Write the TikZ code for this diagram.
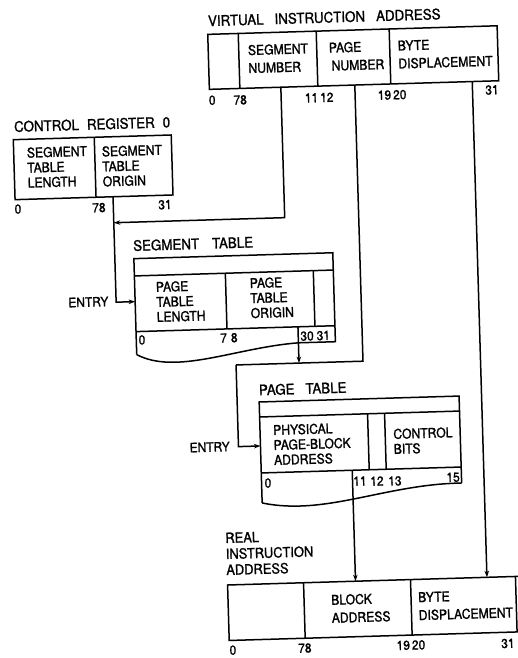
\documentclass[tikz,border=0pt]{standalone}
\usepackage{fontspec}
\setmainfont{TeX Gyre Heros}
\newfontfamily\ttlfont[FakeStretch=0.92,FakeBold=1.2]{TeX Gyre Heros}
\newfontfamily\cellfont[FakeStretch=0.9,FakeBold=1.4]{TeX Gyre Heros}
\usetikzlibrary{arrows.meta}
\begin{document}
\begin{tikzpicture}[x=1pt,y=-1pt,
  ln/.style={line width=1.5pt},
  arr/.style={line width=1.5pt,-{Stealth[length=6.5pt,width=4.5pt]}},
  ttl/.style={font=\ttlfont\fontsize{14.5}{16}\selectfont, inner sep=0pt, anchor=west},
  cell/.style={font=\cellfont\fontsize{13.5}{15}\selectfont, inner sep=0pt, align=left, anchor=west},
  cellw/.style={font=\cellfont\fontsize{13.5}{18}\selectfont, inner sep=0pt, align=left, anchor=west},
  bit/.style={font=\ttlfont\fontsize{13}{14}\selectfont, inner sep=0pt},
]
\useasboundingbox (0,0) rectangle (517,658);
\fill[white] (0,0) rectangle (517,658);
\begin{scope}[rotate around={1.7:(258,329)}, transform shape]
% ---------- virtual instruction address
\node[ttl] (tva) at (217,19.5) {VIRTUAL\hspace{11pt}INSTRUCTION\hspace{11pt}ADDRESS};
\draw[ln] (216.5,33) rectangle (506,88);
\draw[ln] (247,33) -- (247,88) (325,33) -- (325,88) (398,33) -- (398,88);
\node[cellw] (vsn) at (256,59) {SEGMENT\\NUMBER};
\node[cellw] (vpn) at (337,59) {PAGE\\\,NUMBER};
\node[cellw] (vbd) at (406,59) {BYTE\\DISPLACEMENT};
\node[bit] (vb0) at (219,99) {0};
\node[bit] (vb7) at (247,99.5) {78};
\node[bit] (vb11) at (326,99.5) {11\kern2pt12};
\node[bit] (vb19) at (399,99) {19\kern2pt20};
\node[bit] (vb31) at (499,97) {31};
% ---------- control register 0
\node[ttl] (tcr) at (20,119.5) {CONTROL\hspace{8pt}REGISTER\hspace{8pt}0};
\draw[ln] (19,132.5) rectangle (177,192.5);
\draw[ln] (100,132.5) -- (100,192.5);
\node[cell] (cstl) at (32,161) {SEGMENT\\TABLE\\LENGTH};
\node[cell] (csto) at (107,162) {SEGMENT\\TABLE\\ORIGIN};
\node[bit] (cb0) at (21.6,202) {0};
\node[bit] (cb7) at (102.6,203) {78};
\node[bit] (cb31) at (168.7,202) {31};
% ---------- segment table
\node[ttl] (tst) at (135.5,242) {SEGMENT\hspace{13pt}TABLE};
\draw[ln] (136,351) -- (136,255) -- (335,255) -- (335,344) -- (298,344);
\draw[ln] (136,351) .. controls (175,373) and (235,347) .. (298,344);
\draw[ln] (136,272.3) -- (335,272.3) (136,328) -- (335,328);
\draw[ln] (227,272.3) -- (227,328) (315,272.3) -- (315,328);
\node[cell] (sptl) at (157,299) {PAGE\\TABLE\\LENGTH};
\node[cell] (spto) at (251,298) {PAGE\\TABLE\\ORIGIN};
\node[bit] (sb0) at (141.7,336.5) {0};
\node[bit] (sb7) at (228.7,337) {7\kern4pt8};
\node[bit] (sb30) at (315,337.5) {30\kern3pt31};
\node[ttl, font=\ttlfont\fontsize{13}{14}\selectfont] (ent1) at (69,297) {ENTRY};
% ---------- page table
\node[ttl] (tpt) at (257,390) {PAGE\hspace{11pt}TABLE};
\draw[ln] (257,503) -- (257,402) -- (457,402) -- (457,489);
\draw[ln] (257,503) .. controls (320,518) and (380,488) .. (457,489);
\draw[ln] (257,417) -- (457,417) (257,473) -- (457,473);
\draw[ln] (365,417) -- (365,473) (382,417) -- (382,473);
\node[cell] (ppba) at (270,445.5) {PHYSICAL\\PAGE-BLOCK\\ADDRESS};
\node[cell] (pcb) at (390,445.5) {CONTROL\\BITS};
\node[bit] (pb0) at (263.4,483.3) {0};
\node[bit] (pb11) at (355.4,484) {11};
\node[bit] (pb12) at (372.4,484.6) {12};
\node[bit] (pb13) at (390.4,485) {13};
\node[bit] (pb15) at (448.6,483) {15};
\node[ttl, font=\ttlfont\fontsize{13}{14}\selectfont] (ent2) at (186,445.6) {ENTRY};
% ---------- real instruction address
\node[ttl, align=left, font=\ttlfont\fontsize{14}{16}\selectfont] (tra) at (219,553) {REAL\\INSTRUCTION\\ADDRESS};
\draw[ln] (520,584) -- (220,584) -- (220,639.5) -- (520,639.5);
\draw[ln] (508,584) -- (508,639.5);
\draw[ln] (296,584) -- (296,639.5) (403,584) -- (403,639.5);
\node[cellw] (rba) at (323,611) {BLOCK\\ADDRESS};
\node[cellw] (rbd) at (410,611) {BYTE\\DISPLACEMENT};
\node[bit] (rb0) at (223.4,649.3) {0};
\node[bit] (rb7) at (295.4,649.4) {78};
\node[bit] (rb19) at (401.5,649.6) {19\kern2pt20};
\node[bit] (rb31) at (498.5,650.7) {31};
% ---------- connectors
\coordinate (c-vsn) at (288,88);
\coordinate (c-crj) at (117,218.5);
\coordinate (c-cro) at (117,192.5);
\coordinate (c-ste) at (136,298);
\coordinate (c-sto) at (298,328);
\coordinate (c-ptj) at (298,364.3);
\coordinate (c-vpn) at (362,88);
\coordinate (c-pj) at (235,364.3);
\coordinate (c-pte) at (257,446);
\coordinate (c-pto) at (348,473);
\coordinate (c-rba) at (348,584);
\coordinate (c-vbd) at (479.5,88);
\coordinate (c-rbd) at (479.5,584);
\draw[arr] (c-vsn) |- (c-crj);
\draw[arr] (c-cro) |- (c-ste);
\draw[arr] (c-sto) -- (c-ptj);
\draw[ln] (c-vpn) |- (c-pj);
\draw[arr] (c-pj) |- (c-pte);
\draw[arr] (c-pto) -- (c-rba);
\draw[arr] (c-vbd) -- (c-rbd);
\end{scope}
\end{tikzpicture}
\end{document}
